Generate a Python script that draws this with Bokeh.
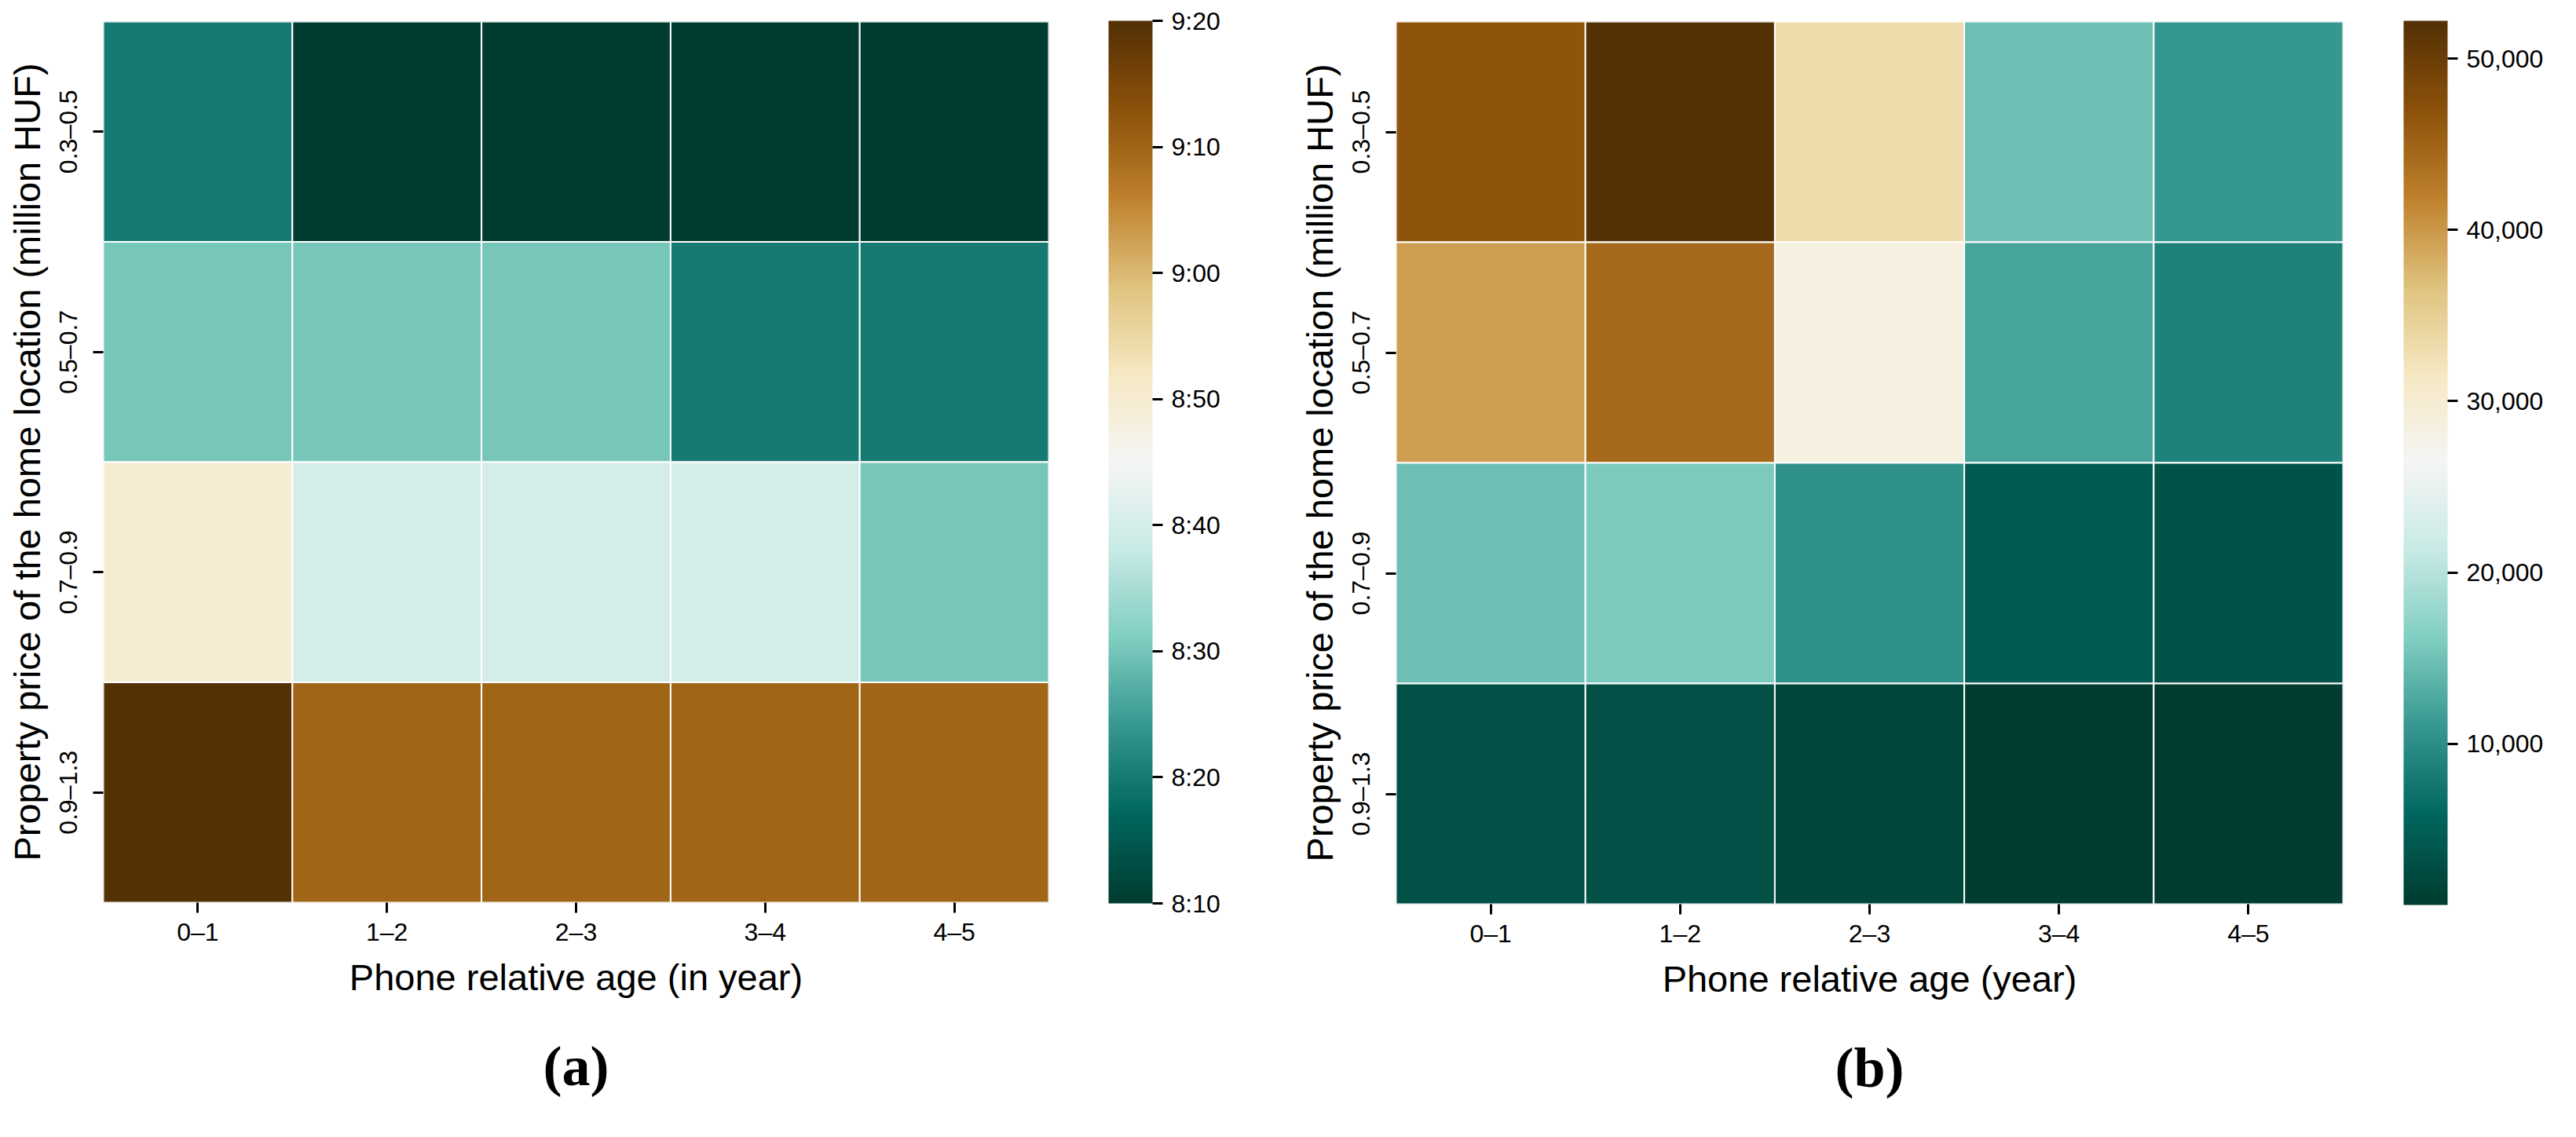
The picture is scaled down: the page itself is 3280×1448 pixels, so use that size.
from bokeh.plotting import figure
from bokeh.models import (LinearColorMapper, ColorBar, FixedTicker, NumeralTickFormatter,
                          Title, ColumnDataSource, FactorRange)
from bokeh.layouts import row
from bokeh.embed import file_html
from bokeh.resources import INLINE

# ---------------- data ----------------
age_bins = ["0–1", "1–2", "2–3", "3–4", "4–5"]
price_bins = ["0.3–0.5", "0.5–0.7", "0.7–0.9", "0.9–1.3"]

# panel (a): clock time, rows = price_bins, columns = age_bins
time_a = [
    ["8:20", "8:10", "8:10", "8:10", "8:10"],
    ["8:30", "8:30", "8:30", "8:20", "8:20"],
    ["8:50", "8:40", "8:40", "8:40", "8:30"],
    ["9:20", "9:10", "9:10", "9:10", "9:10"],
]
cbar_a_ticks = ["8:10", "8:20", "8:30", "8:40", "8:50", "9:00", "9:10", "9:20"]

# panel (b): rows = price_bins, columns = age_bins
values_b = [
    [46700, 52200, 33100, 14800, 11000],
    [39600, 44200, 28600, 12200, 8850],
    [14800, 15900, 10400, 4500, 3500],
    [3300, 3300, 1850, 700, 600],
]
cbar_b_ticks = [10000, 20000, 30000, 40000, 50000]
cbar_b_range = [600, 52200]

xlabel_a = "Phone relative age (in year)"
xlabel_b = "Phone relative age (year)"
ylabel = "Property price of the home location (million HUF)"

# ---------------- colormap (BrBG reversed, continuous) ----------------
brbg = ["#003c30", "#01665e", "#35978f", "#80cdc1", "#c7eae5", "#f5f5f5",
        "#f6e8c3", "#dfc27d", "#bf812d", "#8c510a", "#543005"]


def interp_palette(colors, n=256):
    rgb = [tuple(int(c[i:i + 2], 16) for i in (1, 3, 5)) for c in colors]
    out = []
    m = len(rgb) - 1
    for k in range(n):
        t = k / (n - 1) * m
        i = min(int(t), m - 1)
        f = t - i
        c = tuple(round(rgb[i][j] + (rgb[i + 1][j] - rgb[i][j]) * f) for j in range(3))
        out.append("#%02x%02x%02x" % c)
    return out


palette = interp_palette(brbg)


def to_min(s):
    h, m = s.split(":")
    return int(h) * 60 + int(m)


FONT = "Liberation Sans"


def make_panel(vals, xlabel, low, high, ticks, overrides, fmt, min_left, top, fw, fh,
               cb_gap, tag, tag_offset):
    xs, ys, vs = [], [], []
    for r, pb in enumerate(price_bins):
        for c, ab in enumerate(age_bins):
            xs.append(ab)
            ys.append(pb)
            vs.append(vals[r][c])
    src = ColumnDataSource(dict(x=xs, y=ys, v=vs))
    mapper = LinearColorMapper(palette=palette, low=low, high=high)
    p = figure(x_range=FactorRange(*age_bins), y_range=FactorRange(*price_bins[::-1]),
               frame_width=fw, frame_height=fh, output_backend="svg", toolbar_location=None,
               min_border_left=min_left, min_border_top=top,
               min_border_right=1632 - min_left - fw, min_border_bottom=1432 - top - fh)
    p.rect(x="x", y="y", width=1, height=1, source=src,
           fill_color={"field": "v", "transform": mapper},
           line_color="white", line_width=2)
    p.outline_line_color = None
    p.grid.grid_line_color = None
    for ax in (p.xaxis[0], p.yaxis[0]):
        ax.axis_line_color = None
        ax.major_tick_out = 13
        ax.major_tick_in = 0
        ax.major_tick_line_width = 3
        ax.major_tick_line_color = "black"
        ax.major_label_text_font = FONT
        ax.major_label_text_font_size = "32px"
        ax.major_label_text_color = "black"
        ax.axis_label_text_font = FONT
        ax.axis_label_text_font_size = "47px"
        ax.axis_label_text_font_style = "normal"
        ax.axis_label_text_color = "black"
    p.xaxis.axis_label = xlabel
    p.yaxis.axis_label = ylabel
    p.xaxis.major_label_standoff = 6
    p.xaxis.axis_label_standoff = 10
    p.yaxis.major_label_orientation = "vertical"
    p.yaxis.major_label_standoff = 14
    p.yaxis.axis_label_standoff = 5

    cb = ColorBar(color_mapper=mapper, ticker=FixedTicker(ticks=ticks),
                  width=56, height=fh + 2, padding=cb_gap, margin=0,
                  location="center_left",
                  major_tick_out=13, major_tick_in=0, major_tick_line_color="black",
                  major_tick_line_width=3, bar_line_color=None,
                  major_label_text_font=FONT, major_label_text_font_size="32px",
                  major_label_text_color="black", label_standoff=11,
                  background_fill_color=None, border_line_color=None)
    if overrides is not None:
        cb.major_label_overrides = overrides
    if fmt is not None:
        cb.formatter = fmt
    p.add_layout(cb, "right")
    p.add_layout(Title(text=tag, align="center", offset=tag_offset, text_font="Liberation Serif",
                       text_font_size="72px", text_font_style="bold", text_color="black",
                       standoff=84), "below")
    return p


vals_a = [[to_min(s) for s in r] for r in time_a]
ticks_a = [to_min(s) for s in cbar_a_ticks]
p1 = make_panel(vals_a, xlabel_a, ticks_a[0], ticks_a[-1], ticks_a,
                {t: s for t, s in zip(ticks_a, cbar_a_ticks)}, None,
                131, 27, 1204, 1122, 76, "(a)", 53)
p2 = make_panel(values_b, xlabel_b, cbar_b_range[0], cbar_b_range[1], cbar_b_ticks,
                None, NumeralTickFormatter(format="0,0"),
                145, 25, 1206, 1124, 77, "(b)", 72)

layout = row(p1, p2)
open("out.html", "w").write(file_html(layout, INLINE))
